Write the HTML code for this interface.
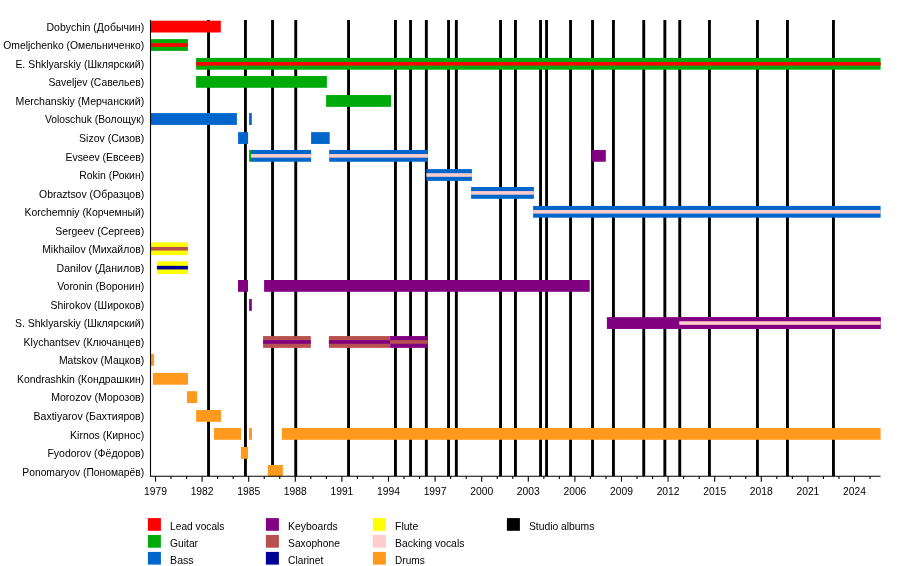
<!DOCTYPE html>
<html lang="en"><head><meta charset="utf-8"><title>Timeline</title>
<style>
html,body{margin:0;padding:0;background:#fff}
body{width:900px;height:566px;overflow:hidden}
svg{display:block}
text{font-family:"Liberation Sans",Arial,sans-serif;font-size:10.3px;fill:#000}
</style></head><body>
<svg width="900" height="566" viewBox="0 0 900 566">
<rect width="900" height="566" fill="#fff"/>
<g fill="#000">
<rect x="207.10" y="20.00" width="2.90" height="456.20"/>
<rect x="244.00" y="20.00" width="2.90" height="456.20"/>
<rect x="271.10" y="20.00" width="2.90" height="456.20"/>
<rect x="294.30" y="20.00" width="2.90" height="456.20"/>
<rect x="347.10" y="20.00" width="2.90" height="456.20"/>
<rect x="394.00" y="20.00" width="2.90" height="456.20"/>
<rect x="409.10" y="20.00" width="2.90" height="456.20"/>
<rect x="424.90" y="20.00" width="2.90" height="456.20"/>
<rect x="447.10" y="20.00" width="2.90" height="456.20"/>
<rect x="454.90" y="20.00" width="2.90" height="456.20"/>
<rect x="499.10" y="20.00" width="2.90" height="456.20"/>
<rect x="514.00" y="20.00" width="2.90" height="456.20"/>
<rect x="539.10" y="20.00" width="2.90" height="456.20"/>
<rect x="545.10" y="20.00" width="2.90" height="456.20"/>
<rect x="569.10" y="20.00" width="2.90" height="456.20"/>
<rect x="591.10" y="20.00" width="2.90" height="456.20"/>
<rect x="612.00" y="20.00" width="2.90" height="456.20"/>
<rect x="642.30" y="20.00" width="2.90" height="456.20"/>
<rect x="663.40" y="20.00" width="2.90" height="456.20"/>
<rect x="678.30" y="20.00" width="2.90" height="456.20"/>
<rect x="708.00" y="20.00" width="2.90" height="456.20"/>
<rect x="756.00" y="20.00" width="2.90" height="456.20"/>
<rect x="786.00" y="20.00" width="2.90" height="456.20"/>
<rect x="832.00" y="20.00" width="2.90" height="456.20"/>
</g>
<rect x="150.50" y="20.70" width="70.30" height="11.80" fill="#ff0000"/>
<rect x="150.50" y="39.10" width="37.40" height="11.80" fill="#00aa0a"/>
<rect x="150.50" y="43.20" width="37.40" height="3.60" fill="#ff0000"/>
<rect x="196.10" y="57.90" width="684.50" height="11.80" fill="#00aa0a"/>
<rect x="196.10" y="62.00" width="684.50" height="3.60" fill="#ff0000"/>
<rect x="196.10" y="76.00" width="130.80" height="11.80" fill="#00aa0a"/>
<rect x="326.10" y="95.05" width="65.00" height="11.80" fill="#00aa0a"/>
<rect x="150.50" y="113.10" width="86.40" height="11.80" fill="#0066cc"/>
<rect x="249.10" y="113.10" width="2.70" height="11.80" fill="#0066cc"/>
<rect x="238.10" y="132.15" width="10.00" height="11.80" fill="#0066cc"/>
<rect x="311.10" y="132.15" width="18.60" height="11.80" fill="#0066cc"/>
<rect x="249.10" y="149.95" width="2.30" height="11.80" fill="#00aa0a"/>
<rect x="251.00" y="149.95" width="60.10" height="11.80" fill="#0066cc"/>
<rect x="251.00" y="154.05" width="60.10" height="3.60" fill="#ffcccc"/>
<rect x="329.20" y="149.95" width="98.70" height="11.80" fill="#0066cc"/>
<rect x="329.20" y="154.05" width="98.70" height="3.60" fill="#ffcccc"/>
<rect x="591.70" y="149.95" width="14.10" height="11.80" fill="#800080"/>
<rect x="426.40" y="169.10" width="45.50" height="11.80" fill="#0066cc"/>
<rect x="426.40" y="173.20" width="45.50" height="3.60" fill="#ffcccc"/>
<rect x="471.10" y="187.00" width="62.80" height="11.80" fill="#0066cc"/>
<rect x="471.10" y="191.10" width="62.80" height="3.60" fill="#ffcccc"/>
<rect x="533.10" y="205.90" width="347.50" height="11.80" fill="#0066cc"/>
<rect x="533.10" y="210.00" width="347.50" height="3.60" fill="#ffcccc"/>
<rect x="150.50" y="242.40" width="37.40" height="12.70" fill="#ffff00"/>
<rect x="150.50" y="246.95" width="37.40" height="3.60" fill="#b85050"/>
<rect x="156.90" y="261.30" width="31.00" height="12.70" fill="#ffff00"/>
<rect x="156.90" y="265.85" width="31.00" height="3.60" fill="#000099"/>
<rect x="238.00" y="280.00" width="10.00" height="11.80" fill="#800080"/>
<rect x="264.10" y="280.00" width="325.60" height="11.80" fill="#800080"/>
<rect x="249.10" y="299.05" width="2.70" height="11.80" fill="#800080"/>
<rect x="606.90" y="317.15" width="273.70" height="11.80" fill="#800080"/>
<rect x="679.20" y="317.15" width="201.40" height="11.80" fill="#800080"/>
<rect x="679.20" y="321.25" width="201.40" height="3.60" fill="#ffcccc"/>
<rect x="263.10" y="336.05" width="47.70" height="11.80" fill="#b85050"/>
<rect x="263.10" y="340.15" width="47.70" height="3.60" fill="#800080"/>
<rect x="328.90" y="336.05" width="61.20" height="11.80" fill="#b85050"/>
<rect x="328.90" y="340.15" width="61.20" height="3.60" fill="#800080"/>
<rect x="390.10" y="336.05" width="37.70" height="11.80" fill="#800080"/>
<rect x="390.10" y="340.15" width="37.70" height="3.60" fill="#b85050"/>
<rect x="150.50" y="354.00" width="3.60" height="11.80" fill="#ff9a1f"/>
<rect x="152.90" y="372.90" width="35.10" height="11.80" fill="#ff9a1f"/>
<rect x="187.00" y="391.20" width="10.10" height="11.80" fill="#ff9a1f"/>
<rect x="196.10" y="410.00" width="25.00" height="11.80" fill="#ff9a1f"/>
<rect x="213.90" y="428.00" width="27.20" height="11.80" fill="#ff9a1f"/>
<rect x="249.00" y="428.00" width="3.00" height="11.80" fill="#ff9a1f"/>
<rect x="281.90" y="428.00" width="598.70" height="11.80" fill="#ff9a1f"/>
<rect x="240.90" y="447.00" width="7.10" height="11.80" fill="#ff9a1f"/>
<rect x="267.80" y="465.00" width="15.10" height="11.20" fill="#ff9a1f"/>
<g stroke="#000" stroke-width="1.1" fill="none">
<path d="M150.50 20.00V476.20H880.60"/>
<path d="M155.50 476.20v5.5"/>
<path d="M171.03 476.20v2.8"/>
<path d="M186.57 476.20v2.8"/>
<path d="M202.10 476.20v5.5"/>
<path d="M217.63 476.20v2.8"/>
<path d="M233.16 476.20v2.8"/>
<path d="M248.70 476.20v5.5"/>
<path d="M264.23 476.20v2.8"/>
<path d="M279.76 476.20v2.8"/>
<path d="M295.30 476.20v5.5"/>
<path d="M310.83 476.20v2.8"/>
<path d="M326.36 476.20v2.8"/>
<path d="M341.90 476.20v5.5"/>
<path d="M357.43 476.20v2.8"/>
<path d="M372.96 476.20v2.8"/>
<path d="M388.50 476.20v5.5"/>
<path d="M404.03 476.20v2.8"/>
<path d="M419.56 476.20v2.8"/>
<path d="M435.09 476.20v5.5"/>
<path d="M450.63 476.20v2.8"/>
<path d="M466.16 476.20v2.8"/>
<path d="M481.69 476.20v5.5"/>
<path d="M497.23 476.20v2.8"/>
<path d="M512.76 476.20v2.8"/>
<path d="M528.29 476.20v5.5"/>
<path d="M543.83 476.20v2.8"/>
<path d="M559.36 476.20v2.8"/>
<path d="M574.89 476.20v5.5"/>
<path d="M590.42 476.20v2.8"/>
<path d="M605.96 476.20v2.8"/>
<path d="M621.49 476.20v5.5"/>
<path d="M637.02 476.20v2.8"/>
<path d="M652.56 476.20v2.8"/>
<path d="M668.09 476.20v5.5"/>
<path d="M683.62 476.20v2.8"/>
<path d="M699.15 476.20v2.8"/>
<path d="M714.69 476.20v5.5"/>
<path d="M730.22 476.20v2.8"/>
<path d="M745.75 476.20v2.8"/>
<path d="M761.29 476.20v5.5"/>
<path d="M776.82 476.20v2.8"/>
<path d="M792.35 476.20v2.8"/>
<path d="M807.89 476.20v5.5"/>
<path d="M823.42 476.20v2.8"/>
<path d="M838.95 476.20v2.8"/>
<path d="M854.49 476.20v5.5"/>
<path d="M870.02 476.20v2.8"/>
</g>
<text x="155.50" y="495.4" text-anchor="middle">1979</text>
<text x="202.10" y="495.4" text-anchor="middle">1982</text>
<text x="248.70" y="495.4" text-anchor="middle">1985</text>
<text x="295.30" y="495.4" text-anchor="middle">1988</text>
<text x="341.90" y="495.4" text-anchor="middle">1991</text>
<text x="388.50" y="495.4" text-anchor="middle">1994</text>
<text x="435.09" y="495.4" text-anchor="middle">1997</text>
<text x="481.69" y="495.4" text-anchor="middle">2000</text>
<text x="528.29" y="495.4" text-anchor="middle">2003</text>
<text x="574.89" y="495.4" text-anchor="middle">2006</text>
<text x="621.49" y="495.4" text-anchor="middle">2009</text>
<text x="668.09" y="495.4" text-anchor="middle">2012</text>
<text x="714.69" y="495.4" text-anchor="middle">2015</text>
<text x="761.29" y="495.4" text-anchor="middle">2018</text>
<text x="807.89" y="495.4" text-anchor="middle">2021</text>
<text x="854.49" y="495.4" text-anchor="middle">2024</text>
<text x="144.2" y="30.80" text-anchor="end" textLength="97.7" lengthAdjust="spacingAndGlyphs">Dobychin (Добычин)</text>
<text x="144.2" y="49.33" text-anchor="end" textLength="140.9" lengthAdjust="spacingAndGlyphs">Omeljchenko (Омельниченко)</text>
<text x="144.2" y="67.87" text-anchor="end" textLength="128.8" lengthAdjust="spacingAndGlyphs">E. Shklyarskiy (Шклярский)</text>
<text x="144.2" y="86.40" text-anchor="end" textLength="95.8" lengthAdjust="spacingAndGlyphs">Saveljev (Савельев)</text>
<text x="144.2" y="104.93" text-anchor="end" textLength="128.6" lengthAdjust="spacingAndGlyphs">Merchanskiy (Мерчанский)</text>
<text x="144.2" y="123.47" text-anchor="end" textLength="99.3" lengthAdjust="spacingAndGlyphs">Voloschuk (Волощук)</text>
<text x="144.2" y="142.00" text-anchor="end" textLength="65.1" lengthAdjust="spacingAndGlyphs">Sizov (Сизов)</text>
<text x="144.2" y="160.53" text-anchor="end" textLength="78.7" lengthAdjust="spacingAndGlyphs">Evseev (Евсеев)</text>
<text x="144.2" y="179.06" text-anchor="end" textLength="65.0" lengthAdjust="spacingAndGlyphs">Rokin (Рокин)</text>
<text x="144.2" y="197.60" text-anchor="end" textLength="105.2" lengthAdjust="spacingAndGlyphs">Obraztsov (Образцов)</text>
<text x="144.2" y="216.13" text-anchor="end" textLength="119.7" lengthAdjust="spacingAndGlyphs">Korchemniy (Корчемный)</text>
<text x="144.2" y="234.66" text-anchor="end" textLength="89.0" lengthAdjust="spacingAndGlyphs">Sergeev (Сергеев)</text>
<text x="144.2" y="253.20" text-anchor="end" textLength="102.0" lengthAdjust="spacingAndGlyphs">Mikhailov (Михайлов)</text>
<text x="144.2" y="271.73" text-anchor="end" textLength="87.6" lengthAdjust="spacingAndGlyphs">Danilov (Данилов)</text>
<text x="144.2" y="290.26" text-anchor="end" textLength="87.0" lengthAdjust="spacingAndGlyphs">Voronin (Воронин)</text>
<text x="144.2" y="308.80" text-anchor="end" textLength="93.7" lengthAdjust="spacingAndGlyphs">Shirokov (Широков)</text>
<text x="144.2" y="327.33" text-anchor="end" textLength="129.3" lengthAdjust="spacingAndGlyphs">S. Shklyarskiy (Шклярский)</text>
<text x="144.2" y="345.86" text-anchor="end" textLength="120.6" lengthAdjust="spacingAndGlyphs">Klychantsev (Ключанцев)</text>
<text x="144.2" y="364.39" text-anchor="end" textLength="85.3" lengthAdjust="spacingAndGlyphs">Matskov (Мацков)</text>
<text x="144.2" y="382.93" text-anchor="end" textLength="127.2" lengthAdjust="spacingAndGlyphs">Kondrashkin (Кондрашкин)</text>
<text x="144.2" y="401.46" text-anchor="end" textLength="93.0" lengthAdjust="spacingAndGlyphs">Morozov (Морозов)</text>
<text x="144.2" y="419.99" text-anchor="end" textLength="110.7" lengthAdjust="spacingAndGlyphs">Baxtiyarov (Бахтияров)</text>
<text x="144.2" y="438.53" text-anchor="end" textLength="74.1" lengthAdjust="spacingAndGlyphs">Kirnos (Кирнос)</text>
<text x="144.2" y="457.06" text-anchor="end" textLength="96.8" lengthAdjust="spacingAndGlyphs">Fyodorov (Фёдоров)</text>
<text x="144.2" y="475.59" text-anchor="end" textLength="121.9" lengthAdjust="spacingAndGlyphs">Ponomaryov (Пономарёв)</text>
<rect x="147.90" y="518.10" width="13" height="12.7" fill="#ff0000"/>
<text x="170.10" y="529.70" textLength="54.3" lengthAdjust="spacingAndGlyphs">Lead vocals</text>
<rect x="147.90" y="535.00" width="13" height="12.7" fill="#00aa0a"/>
<text x="170.10" y="546.60" textLength="27.9" lengthAdjust="spacingAndGlyphs">Guitar</text>
<rect x="147.90" y="551.90" width="13" height="12.7" fill="#0066cc"/>
<text x="170.10" y="563.50" textLength="23.5" lengthAdjust="spacingAndGlyphs">Bass</text>
<rect x="265.90" y="518.10" width="13" height="12.7" fill="#800080"/>
<text x="288.10" y="529.70" textLength="49.6" lengthAdjust="spacingAndGlyphs">Keyboards</text>
<rect x="265.90" y="535.00" width="13" height="12.7" fill="#b85050"/>
<text x="288.10" y="546.60" textLength="51.8" lengthAdjust="spacingAndGlyphs">Saxophone</text>
<rect x="265.90" y="551.90" width="13" height="12.7" fill="#000099"/>
<text x="288.10" y="563.50" textLength="35.2" lengthAdjust="spacingAndGlyphs">Clarinet</text>
<rect x="372.90" y="518.10" width="13" height="12.7" fill="#ffff00"/>
<text x="395.10" y="529.70" textLength="23.2" lengthAdjust="spacingAndGlyphs">Flute</text>
<rect x="372.90" y="535.00" width="13" height="12.7" fill="#ffcccc"/>
<text x="395.10" y="546.60" textLength="69.3" lengthAdjust="spacingAndGlyphs">Backing vocals</text>
<rect x="372.90" y="551.90" width="13" height="12.7" fill="#ff9a1f"/>
<text x="395.10" y="563.50" textLength="29.6" lengthAdjust="spacingAndGlyphs">Drums</text>
<rect x="506.90" y="518.10" width="13" height="12.7" fill="#000"/>
<text x="528.90" y="529.70" textLength="65.5" lengthAdjust="spacingAndGlyphs">Studio albums</text>
</svg>
</body></html>
